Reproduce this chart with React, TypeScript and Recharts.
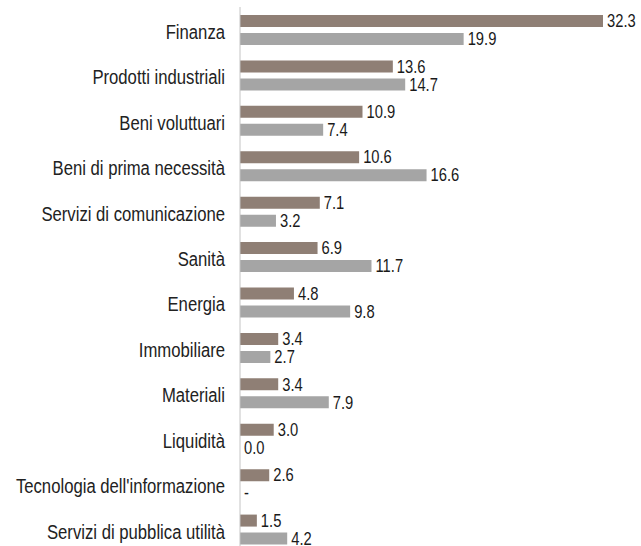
import { ComposedChart, Bar, Line, XAxis, YAxis } from "recharts";

const categories = [
  "Finanza",
  "Prodotti industriali",
  "Beni voluttuari",
  "Beni di prima necessità",
  "Servizi di comunicazione",
  "Sanità",
  "Energia",
  "Immobiliare",
  "Materiali",
  "Liquidità",
  "Tecnologia dell'informazione",
  "Servizi di pubblica utilità",
];

const fundValues = [32.3, 13.6, 10.9, 10.6, 7.1, 6.9, 4.8, 3.4, 3.4, 3.0, 2.6, 1.5];
const benchmarkValues: (number | null)[] = [
  19.9, 14.7, 7.4, 16.6, 3.2, 11.7, 9.8, 2.7, 7.9, 0.0, null, 4.2,
];

const data = categories.map((name, i) => ({
  name,
  fund: fundValues[i],
  bench: benchmarkValues[i],
}));

// no narrow font installed, so Liberation Sans squeezed horizontally
const FONT = "'Liberation Sans', Arial, sans-serif";

function ValueText({ x, y, text }: { x: number; y: number; text: string }) {
  return (
    <g transform={`translate(${x},${y})`}>
      <text
        transform="scale(0.82,1)"
        dy="0.36em"
        fontFamily={FONT}
        fontSize={18}
        fill="#1a1a1a"
      >
        {text}
      </text>
    </g>
  );
}

// labels placed at each bar end, shifted up/down to the bar's own row
function makeLabelDot(key: "fund" | "bench", shift: number) {
  return (props: any) => {
    const { cx, cy, payload, index } = props;
    const v = payload[key];
    return (
      <ValueText
        key={`${key}-${index}`}
        x={Number(cx) + 4}
        y={Number(cy) + shift}
        text={v == null ? "-" : v.toFixed(1)}
      />
    );
  };
}

function CategoryTick(props: any) {
  const { x, y, payload } = props;
  return (
    <g transform={`translate(${x},${y + 2})`}>
      <text
        transform="scale(0.835,1)"
        textAnchor="end"
        dy="0.36em"
        fontFamily={FONT}
        fontSize={20}
        fill="#222"
      >
        {payload.value}
      </text>
    </g>
  );
}

export default function App() {
  return (
    <div
      style={{
        position: "absolute",
        left: 0,
        top: 0,
        width: 641,
        height: 546,
        overflow: "hidden",
        background: "#fff",
      }}
    >
      <ComposedChart
        width={641}
        height={552}
        data={data}
        layout="vertical"
        margin={{ top: 7, right: 38, bottom: 0, left: 0 }}
        barSize={12}
        barGap={6}
      >
        <XAxis type="number" hide domain={[0, 32.3]} />
        <YAxis
          type="category"
          dataKey="name"
          width={240}
          tickLine={false}
          tickSize={0}
          tickMargin={15}
          axisLine={{ stroke: "#c4c4c4" }}
          tick={<CategoryTick />}
          interval={0}
        />
        <Bar dataKey="fund" fill="#8f7f75" isAnimationActive={false} />
        <Bar dataKey="bench" fill="#a5a5a5" isAnimationActive={false} />
        <Line
          dataKey={(d: any) => d.fund}
          stroke="none"
          dot={makeLabelDot("fund", -9)}
          activeDot={false}
          legendType="none"
          isAnimationActive={false}
        />
        <Line
          dataKey={(d: any) => d.bench ?? 0}
          stroke="none"
          dot={makeLabelDot("bench", 9)}
          activeDot={false}
          legendType="none"
          isAnimationActive={false}
        />
      </ComposedChart>
    </div>
  );
}
